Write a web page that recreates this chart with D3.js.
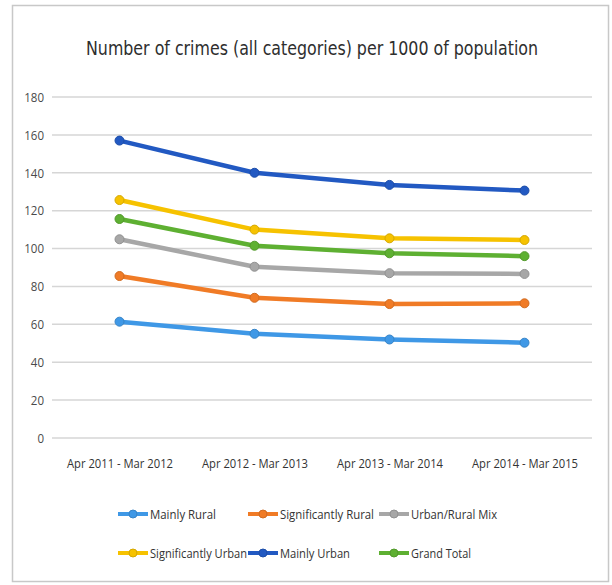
<!DOCTYPE html>
<html>
<head>
<meta charset="utf-8">
<script src="https://cdn.jsdelivr.net/npm/d3@7"></script>
<style>
  html, body { margin: 0; padding: 0; background: #fff; }
  text { font-family: "Open Sans", "Noto Sans", sans-serif; fill: #333; }
</style>
</head>
<body>
<svg id="chart" width="612" height="585"></svg>
<script>
const title = "Number of crimes (all categories) per 1000 of population";
const categories = ["Apr 2011 - Mar 2012", "Apr 2012 - Mar 2013", "Apr 2013 - Mar 2014", "Apr 2014 - Mar 2015"];
const yTicks = [0, 20, 40, 60, 80, 100, 120, 140, 160, 180];
const seriesNames = ["Mainly Rural", "Significantly Rural", "Urban/Rural Mix", "Significantly Urban", "Mainly Urban", "Grand Total"];
const mainlyRural = [61.4, 55, 52, 50.3];
const significantlyRural = [85.5, 74, 70.7, 71.1];
const urbanRuralMix = [104.9, 90.4, 87, 86.6];
const significantlyUrban = [125.6, 110, 105.4, 104.5];
const mainlyUrban = [157, 140, 133.6, 130.6];
const grandTotal = [115.6, 101.5, 97.5, 96];
const colors = ["#3f98e6", "#f07b26", "#a7a7a7", "#f6c200", "#2259c2", "#5eb032"];

const seriesValues = [mainlyRural, significantlyRural, urbanRuralMix, significantlyUrban, mainlyUrban, grandTotal];
const series = seriesNames.map((n, i) => ({ name: n, values: seriesValues[i], color: colors[i] }));

const svg = d3.select("#chart");

// outer border
svg.append("rect").attr("x", 12.5).attr("y", 5.5).attr("width", 596).attr("height", 576)
  .attr("fill", "#fff").attr("stroke", "#c8c8c8").attr("stroke-width", 1.5);

const plot = { left: 52, right: 592, top: 97, bottom: 438 };

const x = d3.scalePoint().domain(categories).range([plot.left, plot.right]).padding(0.5);
const y = d3.scaleLinear().domain([0, 180]).range([plot.bottom, plot.top]);

// title
svg.append("text").attr("x", 312).attr("y", 55).attr("text-anchor", "middle")
  .attr("font-size", 20).attr("textLength", 452).attr("lengthAdjust", "spacingAndGlyphs")
  .style("font-family", "'Liberation Sans Narrow', 'DejaVu Sans Condensed', 'Open Sans', sans-serif")
  .style("fill", "#2e2e2e").text(title);

// gridlines
svg.append("g").selectAll("line").data(yTicks).join("line")
  .attr("x1", plot.left).attr("x2", plot.right)
  .attr("y1", d => y(d)).attr("y2", d => y(d))
  .attr("stroke", "#d6d6d6").attr("stroke-width", 1.5);

// y axis labels
const yAxis = d3.axisLeft(y).tickValues(yTicks).tickSize(0).tickPadding(8);
const yg = svg.append("g").attr("transform", `translate(${plot.left},0)`).call(yAxis);
yg.select(".domain").remove();
yg.selectAll("text").attr("font-size", 13.5).style("font-family", "'Open Sans', sans-serif").style("fill", "#4a4a4a")
  .attr("textLength", d => String(d).length * 6.6).attr("lengthAdjust", "spacingAndGlyphs");

// x axis labels
const xAxis = d3.axisBottom(x).tickSize(0).tickPadding(0);
const xg = svg.append("g").attr("transform", `translate(0,${plot.bottom + 20})`).call(xAxis);
xg.select(".domain").remove();
xg.selectAll("text").attr("font-size", 13.5).attr("dy", "0.71em")
  .style("font-family", "'Open Sans', sans-serif").style("fill", "#333")
  .attr("textLength", 106).attr("lengthAdjust", "spacingAndGlyphs");

// lines
const line = d3.line().x((d, i) => x(categories[i])).y(d => y(d));
const sg = svg.append("g").selectAll("g").data(series).join("g");
sg.append("path").attr("d", d => line(d.values)).attr("fill", "none")
  .attr("stroke", d => d.color).attr("stroke-width", 4.5).attr("stroke-linejoin", "round").attr("stroke-linecap", "round");
sg.selectAll("circle").data(d => d.values.map((v, i) => ({ v, i, c: d.color }))).join("circle")
  .attr("cx", d => x(categories[d.i])).attr("cy", d => y(d.v)).attr("r", 4.5)
  .attr("fill", d => d.c).attr("stroke", d => d3.color(d.c).darker(0.4)).attr("stroke-width", 1);

// legend
const legX = [118, 248, 379];
const legY = [514, 553];
const legTextLen = [66, 94, 86, 97, 70, 60];
const lg = svg.append("g").selectAll("g").data(series).join("g")
  .attr("transform", (d, i) => `translate(${legX[i % 3]},${legY[Math.floor(i / 3)]})`);
lg.append("line").attr("x1", 0).attr("x2", 30).attr("y1", 0).attr("y2", 0)
  .attr("stroke", d => d.color).attr("stroke-width", 4);
lg.append("circle").attr("cx", 15).attr("cy", 0).attr("r", 4)
  .attr("fill", d => d.color).attr("stroke", d => d3.color(d.color).darker(0.4)).attr("stroke-width", 1);
lg.append("text").attr("x", 32).attr("y", 0).attr("dy", "0.35em").attr("font-size", 13.5)
  .attr("textLength", (d, i) => legTextLen[i]).attr("lengthAdjust", "spacingAndGlyphs")
  .style("fill", "#333").text(d => d.name);
</script>
</body>
</html>
